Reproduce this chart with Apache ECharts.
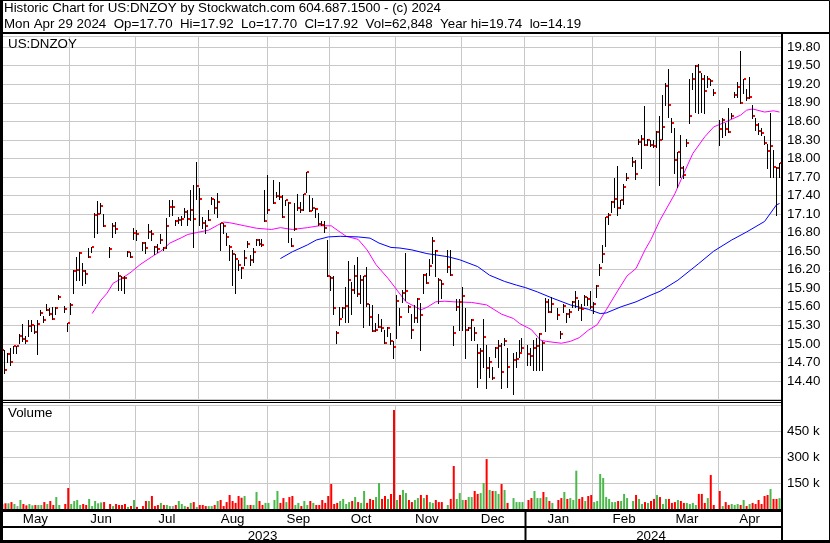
<!DOCTYPE html>
<html><head><meta charset="utf-8">
<script src="https://cdn.jsdelivr.net/npm/echarts@6/dist/echarts.min.js"></script>
<style>html,body{margin:0;padding:0;background:#fff}#c{width:830px;height:543px}</style>
</head><body><div id="c"></div><script>
// ---- categories: every weekday of the period (market holidays have no data) ----
const firstDay = '2023-05-01';
const lastDay = '2024-04-29';
const monthLabels = ['Jan','Feb','Mar','Apr','May','Jun','Jul','Aug','Sep','Oct','Nov','Dec'];
const yearLabels = {'2023':'2023','2024':'2024'};
const priceTicks = {min:14.10, max:19.98, step:0.30};
const volumeTicks = {min:0, max:600000, step:150000};

// ---- daily highs (per month rows) ----
const highs = [
 15.01,14.90,14.85,14.93,14.97,14.97,15.16,15.32,15.13,15.39,15.39,15.30,15.39,15.55,15.45,15.64,15.58,15.59,15.59,15.79,null,15.61,15.34,
 15.66,16.19,16.40,16.49,16.30,16.19,16.55,16.57,17.11,17.31,17.28,17.10,null,16.56,16.96,16.97,16.16,16.09,16.10,16.51,16.49,16.88,
 16.84,null,16.65,16.64,16.94,16.84,16.58,16.61,16.78,16.57,17.03,17.33,17.33,17.01,17.06,17.07,17.19,17.16,17.49,17.57,17.94,
 17.52,17.06,17.00,17.16,17.37,17.34,17.44,16.96,16.95,16.79,16.60,16.52,16.46,16.36,16.25,16.52,16.67,16.44,16.55,16.69,16.69,16.69,17.49,
 17.73,null,17.65,17.46,17.62,17.41,17.33,17.30,16.71,17.28,17.43,17.30,17.43,17.78,17.41,17.36,17.19,17.11,16.98,16.99,16.68,
 16.09,16.09,15.20,15.60,15.60,15.92,16.34,16.00,16.28,16.41,16.11,16.09,16.25,15.64,15.63,15.33,15.49,15.41,15.22,15.27,15.18,15.04,
 15.79,15.58,15.87,16.47,15.63,15.49,15.63,15.74,15.66,16.13,16.14,16.38,16.73,16.52,16.06,16.03,null,16.52,16.52,15.29,15.73,15.72,
 15.92,15.58,15.28,15.41,15.28,14.99,14.93,15.40,14.98,14.79,14.63,14.95,15.06,15.01,15.09,14.93,null,14.85,14.87,15.06,15.10,
 null,14.98,14.93,15.07,15.09,15.17,15.04,15.74,15.72,15.75,null,15.58,15.21,15.65,15.50,15.56,15.70,15.86,15.71,15.65,15.79,15.76,15.86,
 15.68,15.95,16.29,16.60,17.06,17.12,17.31,17.68,17.87,17.33,17.58,17.77,null,18.02,17.97,18.32,18.38,18.84,18.32,18.30,18.30,
 18.45,18.68,19.02,19.22,19.44,18.65,18.49,18.11,18.38,17.88,18.31,19.29,19.38,19.51,19.53,19.38,19.35,19.33,19.29,19.13,null,
 18.62,18.65,18.57,18.81,18.73,19.08,19.24,19.74,19.29,19.13,19.32,18.86,18.65,18.57,18.49,18.36,18.24,18.74,18.13,17.86,17.92
];
// ---- daily lows ----
const lows = [
 14.85,14.53,14.71,14.66,14.85,14.85,15.01,15.04,15.02,15.13,15.21,15.17,14.83,15.47,15.35,15.55,15.47,15.40,15.49,15.72,null,15.51,15.20,
 15.49,15.83,16.03,16.03,15.95,15.98,16.40,16.49,16.73,16.79,17.12,16.91,null,16.41,16.73,16.80,15.87,15.87,15.82,16.42,16.40,16.70,
 16.68,null,16.52,16.47,16.72,16.68,16.46,16.49,16.63,16.52,16.55,17.07,17.08,16.92,16.95,16.92,17.06,16.92,17.00,16.57,17.35,
 16.92,16.87,16.79,17.00,17.27,17.11,17.06,16.52,16.79,16.60,16.36,15.95,15.83,16.19,16.06,16.28,16.56,16.28,16.33,16.60,16.60,16.58,16.98,
 17.11,null,17.28,17.38,17.35,17.06,17.25,16.65,16.58,16.84,17.16,17.14,17.16,17.46,17.15,17.16,17.06,16.92,16.92,16.81,16.09,
 15.87,15.49,15.02,15.31,15.44,15.36,15.36,15.49,15.82,15.78,15.66,15.28,15.62,15.31,15.20,15.20,15.28,15.20,15.01,15.12,15.00,14.77,
 15.09,15.31,15.68,15.71,15.52,15.09,15.36,15.36,14.90,15.83,15.98,16.11,16.30,16.09,15.66,15.74,null,16.17,16.11,14.98,15.55,15.22,
 15.22,14.77,15.22,15.06,15.06,14.31,14.45,14.63,14.28,14.47,14.43,14.79,14.63,14.28,14.98,14.31,null,14.19,14.63,14.79,14.88,
 null,14.66,14.66,14.58,14.58,14.58,14.58,15.20,15.52,15.52,null,15.41,15.10,15.52,15.36,15.44,15.60,15.60,15.55,15.39,15.63,15.63,15.58,
 15.50,15.76,16.11,16.33,16.58,16.94,17.14,17.22,17.08,17.19,17.27,17.65,null,17.87,17.66,18.24,17.84,18.22,18.22,18.20,18.19,
 18.19,17.57,18.32,18.86,18.67,18.43,17.76,17.54,17.70,17.68,18.20,18.58,19.13,18.75,18.74,18.75,18.73,19.16,19.19,19.02,null,
 18.22,18.35,18.38,18.43,18.65,18.99,19.00,18.89,19.05,18.94,18.97,18.66,18.46,18.40,18.38,18.24,17.84,17.70,17.70,17.08,17.70
];
// ---- daily closes ----
const closes = [
 14.90,14.57,14.83,14.70,14.96,14.96,15.13,15.08,15.05,15.29,15.30,15.19,15.32,15.50,15.38,15.55,15.49,15.41,15.58,15.75,null,15.57,15.34,
 15.63,16.18,16.19,16.47,16.18,16.13,16.40,16.57,17.09,17.10,17.23,16.91,null,16.53,16.91,16.86,16.09,16.07,16.06,16.49,16.40,16.80,
 16.78,null,16.63,16.55,16.81,16.78,16.56,16.53,16.68,16.55,16.91,17.22,17.22,16.98,17.00,17.02,17.14,17.02,17.16,17.02,17.56,
 17.34,16.96,16.91,17.00,17.35,17.19,17.29,16.95,16.90,16.73,16.56,16.45,16.38,16.28,16.22,16.39,16.61,16.36,16.49,16.68,16.62,16.60,16.99,
 17.16,null,17.28,17.39,17.37,17.06,17.32,17.28,16.58,16.85,17.19,17.16,17.42,17.78,17.15,17.20,17.18,16.94,16.93,16.88,16.10,
 16.07,15.58,15.18,15.40,15.58,15.61,16.04,15.87,16.10,15.81,16.04,16.09,15.64,15.44,15.21,15.22,15.28,15.26,15.02,15.26,15.05,14.95,
 15.70,15.44,15.83,15.86,15.60,15.22,15.42,15.73,15.46,16.12,15.99,16.26,16.67,16.51,16.03,15.97,null,16.25,16.11,15.18,15.60,15.68,
 15.77,15.22,15.25,15.39,15.18,14.86,14.89,15.11,14.61,14.71,14.44,14.93,14.97,14.55,15.05,14.62,null,14.74,14.76,14.85,14.93,
 null,14.84,14.80,14.94,14.96,15.16,15.02,15.67,15.52,15.64,null,15.47,15.16,15.62,15.48,15.52,15.68,15.74,15.58,15.56,15.75,15.72,15.60,
 15.64,15.94,16.22,16.46,17.06,17.08,17.30,17.34,17.19,17.32,17.54,17.69,null,17.94,17.75,18.27,18.32,18.22,18.30,18.22,18.20,
 18.42,18.30,18.50,19.17,18.86,18.58,17.97,18.10,17.85,17.73,18.25,18.68,19.28,19.49,19.40,19.28,19.09,19.28,19.25,19.06,null,
 18.47,18.62,18.48,18.43,18.68,19.03,19.16,18.90,19.28,18.98,19.00,18.68,18.54,18.45,18.41,18.25,18.12,18.20,17.86,17.84,17.92
];
// ---- daily volume, thousands of shares ----
const volumesK = [
 29,33,33,40,29,17,52,29,21,29,21,23,23,23,40,29,46,23,69,23,null,29,121,
 29,46,52,23,29,23,58,17,46,33,38,40,null,29,17,29,23,23,29,12,17,52,
 12,null,17,46,46,75,17,23,35,23,23,17,17,23,46,29,17,12,35,40,12,
 23,23,17,17,17,23,46,52,17,40,81,46,35,75,65,75,23,23,23,98,46,23,35,
 35,null,52,104,35,63,40,69,75,23,35,17,46,23,46,35,23,23,52,35,75,
 144,29,35,46,58,29,40,46,69,40,35,104,35,58,52,69,150,58,75,58,87,571,
 52,81,110,92,52,40,52,63,81,63,81,40,35,52,40,40,null,23,58,248,58,92,
 52,52,69,69,104,87,92,150,288,110,104,104,87,144,110,35,null,63,40,40,40,
 null,52,63,104,63,63,98,69,46,35,null,52,63,98,58,63,52,221,58,69,46,75,81,
 40,46,202,179,69,58,40,40,46,46,87,63,null,46,81,58,29,40,35,46,58,
 81,69,29,58,58,35,40,52,46,35,35,29,35,23,87,87,35,63,196,23,null,
 104,17,40,23,29,23,29,23,52,17,29,35,29,52,29,75,81,115,58,58,63
];
// ---- moving averages: [day index, price] ----
const maShort = [
 [30,15.49],[33,15.71],[35,15.82],[37,15.98],[40,16.06],[43,16.16],[46,16.28],[50,16.41],[53,16.50],[56,16.63],
 [60,16.72],[62,16.77],[65,16.80],[69,16.84],[72,16.92],[74,16.97],[76,16.96],[81,16.91],[85,16.87],[90,16.85],
 [93,16.88],[97,16.85],[102,16.88],[106,16.91],[110,16.91],[112,16.84],[115,16.74],[119,16.69],[122,16.52],[125,16.28],
 [129,16.06],[132,15.87],[135,15.68],[140,15.55],[142,15.59],[145,15.68],[148,15.69],[151,15.68],[157,15.67],[162,15.63],
 [167,15.48],[171,15.41],[173,15.33],[177,15.23],[180,15.06],[182,15.04],[187,15.01],[190,15.04],[193,15.10],[196,15.22],
 [199,15.31],[202,15.55],[206,15.87],[209,16.10],[212,16.22],[215,16.52],[217,16.69],[220,17.00],[225,17.43],[228,17.76],
 [231,18.08],[235,18.35],[238,18.51],[242,18.59],[247,18.70],[249,18.78],[251,18.80],[255,18.75],[258,18.77],[260,18.75]
];
const maLong = [
 [93,16.38],[97,16.49],[102,16.60],[105,16.68],[109,16.73],[113,16.74],[119,16.73],[123,16.71],[126,16.63],[130,16.56],
 [133,16.55],[137,16.52],[142,16.46],[149,16.41],[153,16.36],[159,16.25],[163,16.11],[168,16.01],[172,15.95],[175,15.91],
 [179,15.84],[184,15.74],[190,15.63],[196,15.56],[200,15.49],[202,15.50],[207,15.60],[212,15.68],[217,15.79],[220,15.85],
 [226,16.03],[233,16.30],[238,16.50],[244,16.68],[249,16.81],[255,16.98],[259,17.25],[260,17.27]
];

// ---- build axis helpers ----
function weekdays(s, e) {
  const out = []; let d = new Date(s + 'T00:00:00Z'); const end = new Date(e + 'T00:00:00Z');
  while (d <= end) { const w = d.getUTCDay(); if (w !== 0 && w !== 6) out.push(d.toISOString().slice(0, 10)); d = new Date(d.getTime() + 86400000); }
  return out;
}
const dates = weekdays(firstDay, lastDay);
function groupMid(keyFn) {
  const mids = {}; const groups = {};
  dates.forEach((d, i) => { const k = keyFn(d); (groups[k] = groups[k] || []).push(i); });
  Object.keys(groups).forEach(k => { const g = groups[k]; mids[Math.floor((g[0] + g[g.length - 1]) / 2)] = k; });
  return mids;
}
const monthMid = groupMid(d => d.slice(0, 7));
const yearMid = groupMid(d => d.slice(0, 4));
const monthStart = dates.map((d, i) => i > 0 && d.slice(0, 7) !== dates[i - 1].slice(0, 7));

const FONT = '"Liberation Sans", Arial, sans-serif';
const FS = 13.33;
const GRID_C = '#c8c8c8';

const ohlc = [];
dates.forEach((d, i) => { if (highs[i] != null) ohlc.push([i, highs[i], lows[i], closes[i]]); });
let prevClose = null;
const volData = volumesK.map((v, i) => {
  if (v == null) return '-';
  let col = '#999999';
  if (prevClose != null) col = closes[i] > prevClose ? '#4cb84c' : (closes[i] < prevClose ? '#ff0000' : '#999999');
  prevClose = closes[i];
  return { value: v * 1000, itemStyle: { color: col } };
});

const chart = echarts.init(document.getElementById('c'), null, { renderer: 'canvas' });
const catAxisBase = { type: 'category', data: dates, boundaryGap: true, axisLine: { show: false }, axisTick: { show: false } };
chart.setOption({
  animation: false,
  backgroundColor: '#fff',
  grid: [
    { left: 1, top: 36, width: 780, height: 363.5 },
    { left: 1, top: 405, width: 780, height: 104 }
  ],
  xAxis: [
    Object.assign({}, catAxisBase, { gridIndex: 0, axisLabel: { show: false },
      splitLine: { show: true, interval: (i) => monthStart[i], lineStyle: { color: GRID_C, width: 1 } } }),
    Object.assign({}, catAxisBase, { gridIndex: 1,
      axisLabel: { show: true, interval: (i) => monthMid[i] !== undefined, formatter: (v) => monthLabels[+v.slice(5, 7) - 1],
        color: '#000', fontSize: FS, fontFamily: FONT, margin: 4 },
      splitLine: { show: true, interval: (i) => monthStart[i], lineStyle: { color: GRID_C, width: 1 } } }),
    Object.assign({}, catAxisBase, { gridIndex: 1, position: 'bottom', offset: 17,
      axisLabel: { show: true, interval: (i) => yearMid[i] !== undefined, formatter: (v) => yearLabels[v.slice(0, 4)],
        color: '#000', fontSize: FS, fontFamily: FONT, margin: 4 },
      splitLine: { show: false } })
  ],
  yAxis: [
    { gridIndex: 0, type: 'value', position: 'right', min: priceTicks.min, max: priceTicks.max, interval: priceTicks.step,
      axisLine: { show: false }, axisTick: { show: false },
      axisLabel: { showMinLabel: false, showMaxLabel: false, formatter: (v) => v.toFixed(2), color: '#000', fontSize: FS, fontFamily: FONT, margin: 6 },
      splitLine: { show: true, lineStyle: { color: GRID_C, width: 1 } } },
    { gridIndex: 1, type: 'value', position: 'right', min: volumeTicks.min, max: volumeTicks.max, interval: volumeTicks.step,
      axisLine: { show: false }, axisTick: { show: false },
      axisLabel: { showMinLabel: false, showMaxLabel: false, formatter: (v) => (v / 1000) + ' k', color: '#000', fontSize: FS, fontFamily: FONT, margin: 6 },
      splitLine: { show: true, lineStyle: { color: GRID_C, width: 1 } } }
  ],
  series: [
    { type: 'line', xAxisIndex: 0, yAxisIndex: 0, data: maShort, showSymbol: false, symbol: 'none', silent: true,
      lineStyle: { color: '#ff00ff', width: 1 }, z: 2 },
    { type: 'line', xAxisIndex: 0, yAxisIndex: 0, data: maLong, showSymbol: false, symbol: 'none', silent: true,
      lineStyle: { color: '#0000ff', width: 1 }, z: 2 },
    { type: 'custom', xAxisIndex: 0, yAxisIndex: 0, data: ohlc, encode: { x: 0, y: [1, 2, 3] }, z: 3, silent: true,
      renderItem: function (params, api) {
        const i = api.value(0);
        const h = api.coord([i, api.value(1)]);
        const l = api.coord([i, api.value(2)]);
        const c = api.coord([i, api.value(3)]);
        const x = Math.round(h[0]) - 0.5;
        const yh = Math.round(h[1]), yl = Math.round(l[1]) + 1, yc = Math.round(c[1]);
        return { type: 'group', children: [
          { type: 'line', shape: { x1: x, y1: yh, x2: x, y2: Math.max(yl, yh + 2) }, style: { stroke: '#000', lineWidth: 1 } },
          { type: 'rect', shape: { x: x + 0.5, y: yc - 1, width: 2, height: 2 }, style: { fill: '#ff0000' } }
        ] };
      } },
    { type: 'bar', xAxisIndex: 1, yAxisIndex: 1, data: volData, barWidth: 2, silent: true, z: 3 }
  ],
  graphic: [
    { type: 'text', x: 4, y: 8.5, z: 100, style: { text: 'Historic Chart for US:DNZOY by Stockwatch.com 604.687.1500 - (c) 2024', font: FS + 'px ' + FONT, fill: '#000', verticalAlign: 'middle' } },
    { type: 'text', x: 4, y: 24.5, z: 100, style: { text: 'Mon Apr 29 2024  Op=17.70  Hi=17.92  Lo=17.70  Cl=17.92  Vol=62,848  Year hi=19.74  lo=14.19', font: FS + 'px ' + FONT, fill: '#000', verticalAlign: 'middle' } },
    { type: 'text', x: 8, y: 44, z: 100, style: { text: 'US:DNZOY', font: FS + 'px ' + FONT, fill: '#000', verticalAlign: 'middle' } },
    { type: 'text', x: 8, y: 413, z: 100, style: { text: 'Volume', font: FS + 'px ' + FONT, fill: '#000', verticalAlign: 'middle' } },
    { type: 'rect', z: 100, shape: { x: 0.5, y: 0.5, width: 829, height: 542 }, style: { fill: 'none', stroke: '#000', lineWidth: 1 } },
    { type: 'line', z: 100, shape: { x1: 1.5, y1: 0, x2: 1.5, y2: 543 }, style: { stroke: '#000', lineWidth: 3 } },
    { type: 'line', z: 100, shape: { x1: 0, y1: 33, x2: 830, y2: 33 }, style: { stroke: '#000', lineWidth: 2 } },
    { type: 'line', z: 100, shape: { x1: 782, y1: 33, x2: 782, y2: 543 }, style: { stroke: '#000', lineWidth: 2 } },
    { type: 'line', z: 100, shape: { x1: 0, y1: 400.5, x2: 782, y2: 400.5 }, style: { stroke: '#000', lineWidth: 1 } },
    { type: 'line', z: 100, shape: { x1: 0, y1: 402.5, x2: 782, y2: 402.5 }, style: { stroke: '#000', lineWidth: 1 } },
    { type: 'line', z: 100, shape: { x1: 0, y1: 510.5, x2: 782, y2: 510.5 }, style: { stroke: '#000', lineWidth: 3 } },
    { type: 'line', z: 100, shape: { x1: 0, y1: 527, x2: 782, y2: 527 }, style: { stroke: '#000', lineWidth: 2 } },
    { type: 'line', z: 100, shape: { x1: 0, y1: 541.5, x2: 830, y2: 541.5 }, style: { stroke: '#000', lineWidth: 3 } },
    { type: 'line', z: 100, shape: { x1: 525.5, y1: 509, x2: 525.5, y2: 542 }, style: { stroke: '#000', lineWidth: 2 } }
  ]
});
</script></body></html>
